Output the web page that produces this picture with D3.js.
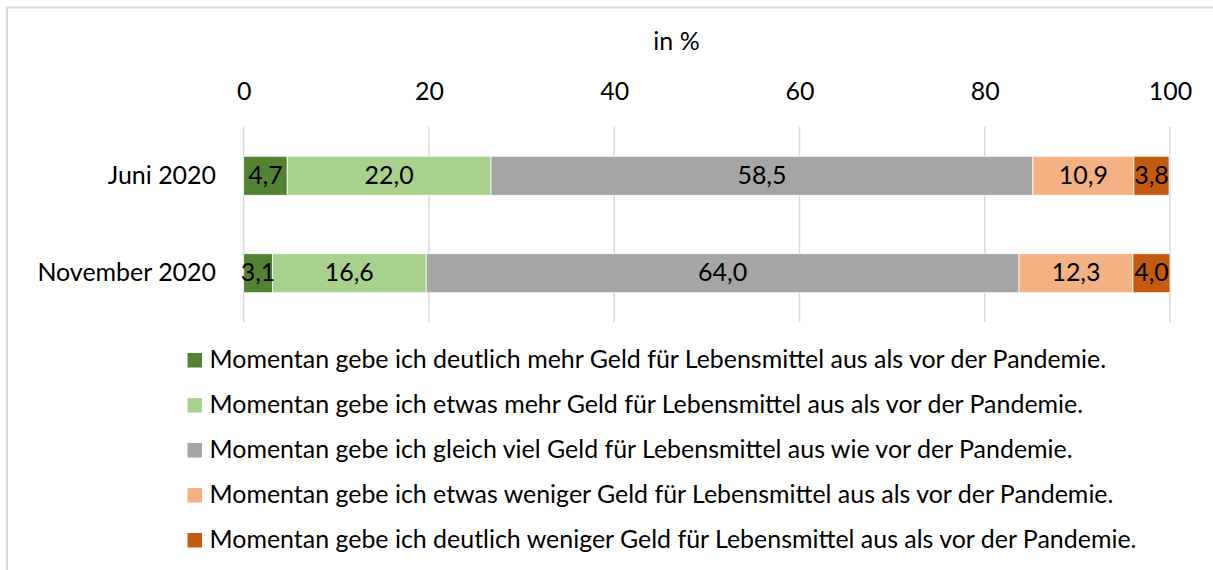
<!DOCTYPE html>
<html>
<head>
<meta charset="utf-8">
<script src="https://cdn.jsdelivr.net/npm/d3@7"></script>
<style>
  html, body { margin: 0; padding: 0; background: #fff; overflow: hidden; }
  svg { display: block; }
  text { font-family: Lato, "Open Sans", sans-serif; fill: #000; }
</style>
</head>
<body>
<svg id="chart" width="1213" height="570"></svg>
<script>
// ---- data ----
const categories = ["Juni 2020", "November 2020"];
const seriesNames = [
  "Momentan gebe ich deutlich mehr Geld für Lebensmittel aus als vor der Pandemie.",
  "Momentan gebe ich etwas mehr Geld für Lebensmittel aus als vor der Pandemie.",
  "Momentan gebe ich gleich viel Geld für Lebensmittel aus wie vor der Pandemie.",
  "Momentan gebe ich etwas weniger Geld für Lebensmittel aus als vor der Pandemie.",
  "Momentan gebe ich deutlich weniger Geld für Lebensmittel aus als vor der Pandemie."
];
const deutlichMehr   = [4.7, 3.1];
const etwasMehr      = [22.0, 16.6];
const gleichViel     = [58.5, 64.0];
const etwasWeniger   = [10.9, 12.3];
const deutlichWeniger= [3.8, 4.0];
const tickValues = [0, 20, 40, 60, 80, 100];
const axisTitle = "in %";
const colors = ["#548235", "#A9D18E", "#A5A5A5", "#F4B183", "#C55A11"];

const seriesValues = [deutlichMehr, etwasMehr, gleichViel, etwasWeniger, deutlichWeniger];
const table = categories.map((c, i) => {
  const row = { cat: c };
  seriesNames.forEach((s, j) => row["s" + j] = seriesValues[j][i]);
  return row;
});
const keys = seriesNames.map((s, j) => "s" + j);

const svg = d3.select("#chart");

// font size fitting to reference legend width
const probe = svg.append("text").attr("font-size", 23).text(seriesNames[0]);
const w23 = probe.node().getComputedTextLength();
probe.remove();
const fs = 23 * 897 / w23;

// frame
svg.append("rect")
  .attr("x", 7).attr("y", 7.5).attr("width", 1400).attr("height", 800)
  .attr("fill", "none").attr("stroke", "#d9d9d9").attr("stroke-width", 2);

const x = d3.scaleLinear().domain([0, 100]).range([243.7, 1170]);
const y = d3.scaleBand().domain(categories).range([127, 322]).paddingInner(0.6).paddingOuter(0.3);

// gridlines
svg.append("g").selectAll("line").data(tickValues).join("line")
  .attr("x1", d => x(d)).attr("x2", d => x(d))
  .attr("y1", 127).attr("y2", 322)
  .attr("stroke", "#d9d9d9").attr("stroke-width", 1.5);

// top axis
const axis = svg.append("g").attr("transform", "translate(0,100)")
  .call(d3.axisTop(x).tickValues(tickValues).tickSize(0).tickPadding(0).tickFormat(d3.format("d")));
axis.select(".domain").remove();
axis.selectAll("text").attr("font-size", fs).attr("font-family", "Lato, 'Open Sans', sans-serif")
  .attr("fill", "#000").attr("dy", 0).attr("y", 0);

// axis title
svg.append("text").attr("x", 676.5).attr("y", 50).attr("text-anchor", "middle")
  .attr("font-size", fs).text(axisTitle);

// stacked bars
const stack = d3.stack().keys(keys)(table);
const layers = svg.append("g").selectAll("g").data(stack).join("g")
  .attr("fill", (d, i) => colors[i]);
layers.selectAll("rect").data(d => d).join("rect")
  .attr("x", d => x(d[0]))
  .attr("width", d => x(d[1]) - x(d[0]))
  .attr("y", d => y(d.data.cat))
  .attr("height", y.bandwidth())
  .attr("stroke", "#fff").attr("stroke-width", 0.75);

// data labels
const fmt = v => v.toFixed(1).replace(".", ",");
svg.append("g").selectAll("g").data(stack).join("g")
  .selectAll("text").data(d => d.map(p => ({ p, key: d.key }))).join("text")
  .attr("x", d => (x(d.p[0]) + x(d.p[1])) / 2)
  .attr("y", d => y(d.p.data.cat) + y.bandwidth() / 2 + fs * 0.33)
  .attr("text-anchor", "middle")
  .attr("font-size", fs)
  .text(d => fmt(d.p.data[d.key]));

// category labels
svg.append("g").selectAll("text").data(categories).join("text")
  .attr("x", 216)
  .attr("y", d => y(d) + y.bandwidth() / 2 + fs * 0.33)
  .attr("text-anchor", "end")
  .attr("font-size", fs)
  .text(d => d);

// legend
const leg = svg.append("g").selectAll("g").data(seriesNames).join("g")
  .attr("transform", (d, i) => `translate(0,${i * 45})`);
leg.append("rect").attr("x", 187.5).attr("y", 353).attr("width", 14.5).attr("height", 14.5)
  .attr("fill", (d, i) => colors[i]);
leg.append("text").attr("x", 209.5).attr("y", 368).attr("font-size", fs).text(d => d);
</script>
</body>
</html>
